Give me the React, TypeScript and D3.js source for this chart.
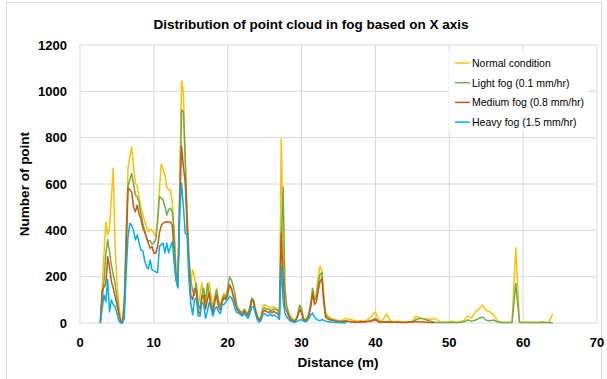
import React from "react";
import * as d3 from "d3";

const distances: number[] = [
  2.75, 3, 3.25, 3.5, 3.75, 4, 4.25, 4.5, 4.75, 5, 5.25, 5.5, 5.75, 6, 6.25, 6.5, 6.75, 7, 7.25, 7.5, 7.75,
  8, 8.25, 8.5, 8.75, 9, 9.25, 9.5, 9.75, 10, 10.25, 10.5, 10.75, 11, 11.25, 11.5, 11.75, 12, 12.25, 12.5, 12.75,
  13, 13.25, 13.5, 13.75, 14, 14.25, 14.5, 14.75, 15, 15.25, 15.5, 15.75, 16, 16.25, 16.5, 16.75, 17, 17.25, 17.5, 17.75,
  18, 18.25, 18.5, 18.75, 19, 19.25, 19.5, 19.75, 20, 20.25, 20.5, 20.75, 21, 21.25, 21.5, 21.75, 22, 22.25, 22.5, 22.75,
  23, 23.25, 23.5, 23.75, 24, 24.25, 24.5, 24.75, 25, 25.25, 25.5, 25.75, 26, 26.25, 26.5, 26.75, 27, 27.25, 27.5, 27.75,
  28, 28.25, 28.5, 28.75, 29, 29.25, 29.5, 29.75, 30, 30.25, 30.5, 30.75, 31, 31.25, 31.5, 31.75, 32, 32.25, 32.5, 32.75,
  33, 33.25, 33.5, 33.75, 34,
  34.5, 35, 35.5, 36, 36.5, 37, 37.5, 38, 38.5, 39, 39.5, 40, 40.5, 41, 41.5, 42, 42.5, 43, 43.5, 44, 44.5, 45, 45.5,
  46, 46.5, 47, 47.5, 48, 48.5, 49, 49.5, 50, 50.5, 51, 51.5, 52, 52.5, 53, 53.5, 54, 54.5, 55, 55.5, 56, 56.5, 57, 57.5,
  58, 58.5, 59, 59.5, 60, 60.5, 61, 61.5, 62, 62.5, 63, 63.5, 64,
];

const normalCondition: (number | null)[] = [
  0, 150, 300, 435, 380, 410, 540, 668, 330, 180, 80, 20, 0, 70, 330, 670, 718, 760, 675, 604, 590,
  540, 500, 470, 440, 416, 394, 405, 400, 388, 375, 445, 574, 686, 665, 640, 588, 575, 574, 520, 400,
  215, 185, 600, 1045, 995, 720, 420, 260, 180, 230, 200, 150, 70, 120, 175, 90, 60, 130, 175, 110,
  70, 110, 150, 100, 70, 110, 130, 100, 130, 160, 150, 110, 75, 70, 50, 45, 40, 55, 50, 35,
  60, 100, 95, 60, 35, 13, 30, 70, 80, 75, 70, 65, 65, 70, 65, 60, 20, 795, 300, 70,
  65, 40, 25, 20, 10, 20, 40, 75, 60, 20, 15, 25, 45, 80, 145, 95, 130, 200, 245, 225,
  90, 45, 35, 25, 20,
  15, 10, 12, 20, 15, 12, 8, 10, 8, 15, 30, 48, 8, 12, 38, 12, 5, 8, 5, 3, 5, 8, 30,
  22, 18, 18, 15, 20, 10, 3, 2, 5, 8, 3, 5, 12, 30, 22, 45, 60, 78, 55, 48, 35, 10, 3, 2,
  2, 2, 325, 5, 3, 3, 2, 3, 2, 4, 2, 3, 40,
];

const lightFog: (number | null)[] = [
  0, 100, 180, 300, 360, 305, 250, 210, 170, 110, 50, 10, 0, 100, 400, 590, 617, 645, 600, 552, 545,
  520, 470, 430, 400, 365, 355, 354, 340, 345, 360, 431, 545, 540, 531, 502, 466, 490, 496, 480, 380,
  215, 185, 550, 920, 912, 700, 480, 286, 185, 140, 120, 172, 80, 60, 120, 150, 90, 170, 120, 80,
  60, 110, 142, 90, 70, 100, 120, 110, 150, 200, 185, 160, 120, 70, 60, 50, 45, 60, 45, 40,
  70, 107, 100, 60, 30, 15, 20, 60, 65, 60, 60, 55, 55, 60, 60, 55, 40, 350, 587, 150,
  70, 45, 25, 15, 10, 15, 35, 77, 60, 20, 12, 20, 40, 90, 150, 100, 110, 170, 210, 218,
  120, 35, 25, 20, 15,
  12, 8, 8, 10, 6, 5, 4, 6, 5, 8, 12, 20, 5, 4, 6, 5, 3, 4, 3, 3, 4, 5, 15,
  20, 18, 12, 8, 3, 2, 2, 2, 3, 2, 2, 3, 5, 13, 8, 12, 20, 26, 12, 10, 13, 5, 2, 2,
  2, 2, 171, 3, 2, 2, 2, 2, 2, 3, 2, 2, 0,
];

const mediumFog: (number | null)[] = [
  0, 140, 155, 170, 286, 240, 180, 150, 114, 80, 40, 8, 0, 80, 300, 582, 575, 565, 502, 480, 509,
  470, 450, 410, 393, 370, 345, 323, 330, 302, 300, 330, 388, 420, 431, 435, 437, 436, 436, 420, 300,
  185, 160, 500, 764, 675, 604, 416, 243, 120, 100, 150, 140, 50, 40, 110, 120, 60, 100, 130, 70,
  40, 90, 120, 70, 55, 90, 110, 100, 120, 165, 150, 120, 90, 60, 50, 40, 35, 50, 40, 30,
  55, 100, 90, 50, 25, 8, 20, 45, 55, 50, 45, 50, 45, 50, 45, 40, 30, 388, 200, 60,
  52, 30, 15, 10, 5, 12, 30, 58, 45, 15, 8, 15, 30, 70, 128, 80, 90, 140, 180, 193,
  90, 25, 18, 15, 12,
  10, 6, 5, 8, 5, 4, 3, 5, 4, 6, 8, 14, 4, 3, 4, 3, 3, 3, 2, 2, 3, 3, 6,
  5, 4, 3, 2, 1, null, null, null, null, null, null, null, null, null, null, null, null, null, null, null, null, null, null, null,
  null, null, null, null, null, null, null, null, null, null, null, null, null,
];

const heavyFog: (number | null)[] = [
  0, 60, 121, 92, 189, 48, 99, 80, 70, 42, 10, 0, 5, 20, 215, 372, 430, 422, 400, 358, 380,
  345, 315, 312, 272, 243, 233, 272, 229, 225, 221, 216, 329, 340, 345, 302, 345, 302, 330, 351, 260,
  185, 151, 474, 604, 502, 388, 380, 185, 86, 35, 100, 110, 30, 30, 90, 80, 20, 50, 90, 60,
  30, 60, 70, 50, 40, 80, 80, 90, 100, 115, 110, 90, 60, 45, 43, 35, 30, 43, 30, 20,
  40, 70, 70, 40, 15, 3, 10, 35, 40, 35, 30, 40, 30, 35, 30, 25, 15, 242, 100, 40,
  27, 15, 8, 5, 3, 5, 8, 13, 15, 8, 5, 8, 20, 35, 43, 25, 18, 12, 10, 15,
  12, 8, 6, 5, 4,
  3, 2, 1, 0, null, null, null, null, null, null, null, null, null, null, null, null, null, null, null, null, null, null, null,
  null, null, null, null, null, null, null, null, null, null, null, null, null, null, null, null, null, null, null, null, null, null, null,
  null, null, null, null, null, null, null, null, null, null, null, null, null,
];

const seriesNames = ["Normal condition", "Light fog (0.1 mm/hr)", "Medium fog (0.8 mm/hr)", "Heavy fog (1.5 mm/hr)"];
const seriesColors = ["#FFC000", "#70AD47", "#C55A11", "#00B0F0"];
const xTicks = [0, 10, 20, 30, 40, 50, 60, 70];
const yTicks = [0, 200, 400, 600, 800, 1000, 1200];

const W = 607;
const H = 379;
const plot = { left: 80, right: 597, top: 45, bottom: 323 };
const FONT = "'Liberation Sans', Arial, sans-serif";

export default function App() {
  const x = d3.scaleLinear().domain([0, 70]).range([plot.left, plot.right]);
  const y = d3.scaleLinear().domain([0, 1200]).range([plot.bottom, plot.top]);
  const allSeries = [normalCondition, lightFog, mediumFog, heavyFog];

  const lineGen = d3
    .line<[number, number | null]>()
    .defined((d) => d[1] !== null && d[1] !== undefined)
    .x((d) => x(d[0]))
    .y((d) => y(d[1] as number));

  const makePath = (vals: (number | null)[]) =>
    lineGen(distances.map((dd, i) => [dd, vals[i]] as [number, number | null])) || "";

  const legendX = 455;
  const legendY = 63;
  const legendStep = 19.7;

  return (
    <svg
      width={W}
      height={H}
      style={{ position: "absolute", left: 0, top: 0, background: "#fff" }}
      fontFamily={FONT}
    >
      <rect x={0} y={0} width={W} height={H} fill="#fff" />
      <rect x={6.5} y={2.5} width={595} height={390} fill="none" stroke="#d9d9d9" />
      <text x={311} y={29} textAnchor="middle" fontWeight="bold" fontSize={13.5} fill="#000">
        Distribution of point cloud in fog based on X axis
      </text>
      {yTicks.map((t) => (
        <line key={"gy" + t} x1={plot.left} x2={plot.right} y1={y(t)} y2={y(t)} stroke="#d9d9d9" strokeWidth={1} />
      ))}
      {xTicks.map((t) => (
        <line key={"gx" + t} x1={x(t)} x2={x(t)} y1={plot.top} y2={plot.bottom} stroke="#d9d9d9" strokeWidth={1} />
      ))}
      {yTicks.map((t) => (
        <text key={"ty" + t} x={67} y={y(t) + 4.5} textAnchor="end" fontWeight="bold" fontSize={13} fill="#000">
          {t}
        </text>
      ))}
      {xTicks.map((t) => (
        <text key={"tx" + t} x={x(t)} y={347} textAnchor="middle" fontWeight="bold" fontSize={13} fill="#000">
          {t}
        </text>
      ))}
      <text x={338} y={367} textAnchor="middle" fontWeight="bold" fontSize={13.5} fill="#000">
        Distance (m)
      </text>
      <text
        transform={`translate(29, ${(plot.top + plot.bottom) / 2}) rotate(-90)`}
        textAnchor="middle"
        fontWeight="bold"
        fontSize={13.5}
        fill="#000"
      >
        Number of point
      </text>
      <rect x={449} y={52} width={139} height={79} fill="#fff" />
      {allSeries.map((s, i) => (
        <path key={"s" + i} d={makePath(s)} fill="none" stroke={seriesColors[i]} strokeWidth={1.5} strokeLinejoin="round" />
      ))}
      {seriesNames.map((n, i) => (
        <g key={"lg" + i}>
          <line
            x1={legendX}
            x2={legendX + 15}
            y1={legendY + i * legendStep}
            y2={legendY + i * legendStep}
            stroke={seriesColors[i]}
            strokeWidth={1.5}
          />
          <text x={legendX + 17} y={legendY + i * legendStep + 3.8} fontSize={10.5} fill="#000">
            {n}
          </text>
        </g>
      ))}
    </svg>
  );
}
